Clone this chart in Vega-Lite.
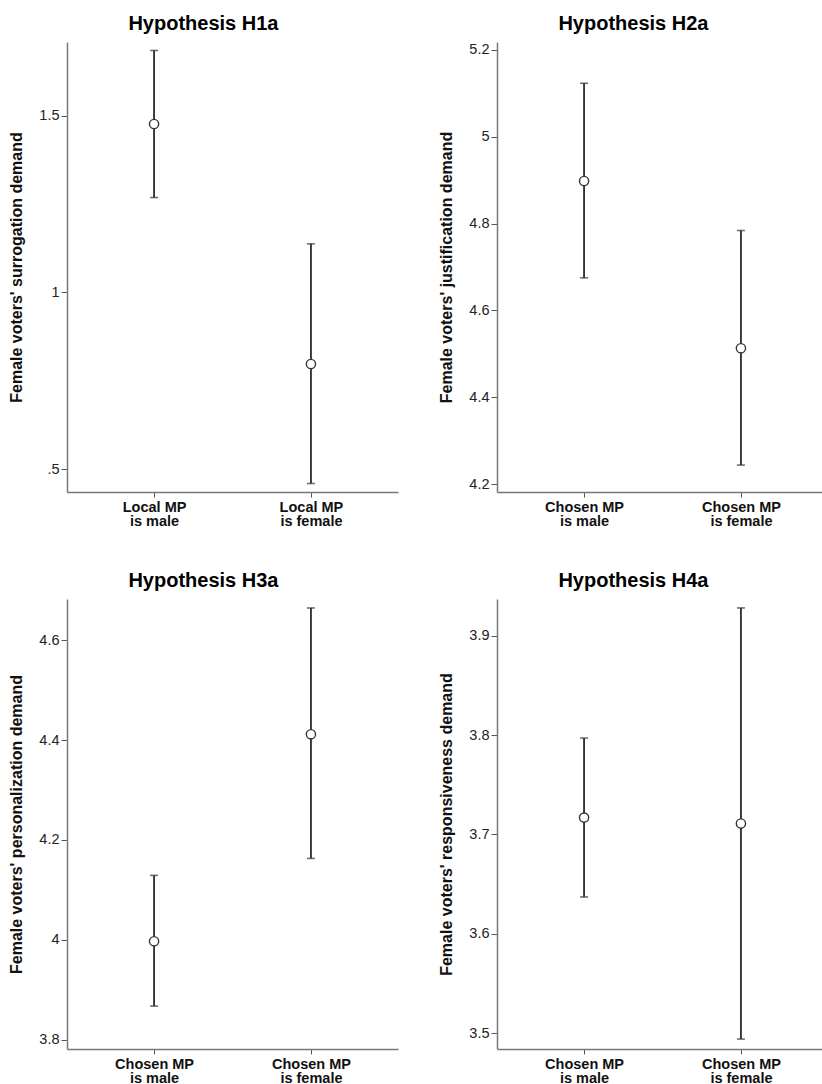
{
  "$schema": "https://vega.github.io/schema/vega-lite/v6.json",
  "background": "white",
  "padding": {"left": 8, "top": 13, "right": 0, "bottom": 0},
  "config": {
    "font": "Liberation Sans",
    "view": {"stroke": null},
    "title": {"fontSize": 20, "fontWeight": "bold", "color": "#000", "anchor": "middle", "frame": "bounds", "offset": 8},
    "axisY": {"domainColor": "#777", "domainWidth": 1.5, "tickColor": "#555", "tickSize": 6, "tickWidth": 1, "labelFontSize": 14.5, "labelColor": "#222", "labelPadding": 2, "titleFontSize": 16, "titleFontWeight": "bold", "titleColor": "#111", "titlePadding": 14, "grid": false, "format": "~g"},
    "axisX": {"domainColor": "#777", "domainWidth": 1.5, "tickColor": "#555", "tickSize": 5, "tickWidth": 1, "labelFontSize": 14.5, "labelFontWeight": "bold", "labelColor": "#111", "labelPadding": 3, "labelAngle": 0, "labelLineHeight": 14, "grid": false, "labelExpr": "[slice(datum.value, 0, indexof(datum.value, ' is ')), slice(datum.value, indexof(datum.value, ' is ') + 1)]"}
  },
  "columns": 2,
  "spacing": {"row": 43, "column": 40},
  "concat": [
    {
      "title": "Hypothesis H1a",
      "width": 331, "height": 450,
      "data": {"values": [
        {"condition": "Local MP is male", "estimate": 1.476, "lower": 1.268, "upper": 1.684},
        {"condition": "Local MP is female", "estimate": 0.797, "lower": 0.459, "upper": 1.137}
      ]},
      "encoding": {"x": {"field": "condition", "type": "nominal", "sort": null, "scale": {"type": "point", "padding": 0.555}, "axis": {"title": null}}},
      "layer": [
        {"mark": {"type": "rule", "color": "#333", "strokeWidth": 1.9},
         "encoding": {"y": {"field": "lower", "type": "quantitative", "scale": {"domain": [0.435, 1.708], "nice": false, "zero": false}, "axis": {"title": "Female voters' surrogation demand", "values": [0.5, 1, 1.5], "labelExpr": "datum.value == 0.5 ? '.5' : datum.label"}}, "y2": {"field": "upper"}}},
        {"mark": {"type": "tick", "color": "#333", "size": 8, "thickness": 1.6},
         "encoding": {"y": {"field": "lower", "type": "quantitative", "scale": {"domain": [0.435, 1.708], "nice": false, "zero": false}, "axis": {"title": "Female voters' surrogation demand", "values": [0.5, 1, 1.5], "labelExpr": "datum.value == 0.5 ? '.5' : datum.label"}}}},
        {"mark": {"type": "tick", "color": "#333", "size": 8, "thickness": 1.6},
         "encoding": {"y": {"field": "upper", "type": "quantitative", "scale": {"domain": [0.435, 1.708], "nice": false, "zero": false}, "axis": {"title": "Female voters' surrogation demand", "values": [0.5, 1, 1.5], "labelExpr": "datum.value == 0.5 ? '.5' : datum.label"}}}},
        {"mark": {"type": "point", "shape": "circle", "filled": true, "fill": "white", "stroke": "#333", "strokeWidth": 1.4, "size": 85, "opacity": 1},
         "encoding": {"y": {"field": "estimate", "type": "quantitative", "scale": {"domain": [0.435, 1.708], "nice": false, "zero": false}, "axis": {"title": "Female voters' surrogation demand", "values": [0.5, 1, 1.5], "labelExpr": "datum.value == 0.5 ? '.5' : datum.label"}}}}
      ]
    },
    {
      "title": "Hypothesis H2a",
      "width": 331, "height": 450,
      "data": {"values": [
        {"condition": "Chosen MP is male", "estimate": 4.898, "lower": 4.675, "upper": 5.123},
        {"condition": "Chosen MP is female", "estimate": 4.513, "lower": 4.244, "upper": 4.784}
      ]},
      "encoding": {"x": {"field": "condition", "type": "nominal", "sort": null, "scale": {"type": "point", "padding": 0.555}, "axis": {"title": null}}},
      "layer": [
        {"mark": {"type": "rule", "color": "#333", "strokeWidth": 1.9},
         "encoding": {"y": {"field": "lower", "type": "quantitative", "scale": {"domain": [4.182, 5.218], "nice": false, "zero": false}, "axis": {"title": "Female voters' justification demand", "values": [4.2, 4.4, 4.6, 4.8, 5, 5.2]}}, "y2": {"field": "upper"}}},
        {"mark": {"type": "tick", "color": "#333", "size": 8, "thickness": 1.6},
         "encoding": {"y": {"field": "lower", "type": "quantitative", "scale": {"domain": [4.182, 5.218], "nice": false, "zero": false}, "axis": {"title": "Female voters' justification demand", "values": [4.2, 4.4, 4.6, 4.8, 5, 5.2]}}}},
        {"mark": {"type": "tick", "color": "#333", "size": 8, "thickness": 1.6},
         "encoding": {"y": {"field": "upper", "type": "quantitative", "scale": {"domain": [4.182, 5.218], "nice": false, "zero": false}, "axis": {"title": "Female voters' justification demand", "values": [4.2, 4.4, 4.6, 4.8, 5, 5.2]}}}},
        {"mark": {"type": "point", "shape": "circle", "filled": true, "fill": "white", "stroke": "#333", "strokeWidth": 1.4, "size": 85, "opacity": 1},
         "encoding": {"y": {"field": "estimate", "type": "quantitative", "scale": {"domain": [4.182, 5.218], "nice": false, "zero": false}, "axis": {"title": "Female voters' justification demand", "values": [4.2, 4.4, 4.6, 4.8, 5, 5.2]}}}}
      ]
    },
    {
      "title": "Hypothesis H3a",
      "width": 331, "height": 450,
      "data": {"values": [
        {"condition": "Chosen MP is male", "estimate": 3.997, "lower": 3.867, "upper": 4.129},
        {"condition": "Chosen MP is female", "estimate": 4.412, "lower": 4.163, "upper": 4.665}
      ]},
      "encoding": {"x": {"field": "condition", "type": "nominal", "sort": null, "scale": {"type": "point", "padding": 0.555}, "axis": {"title": null}}},
      "layer": [
        {"mark": {"type": "rule", "color": "#333", "strokeWidth": 1.9},
         "encoding": {"y": {"field": "lower", "type": "quantitative", "scale": {"domain": [3.781, 4.683], "nice": false, "zero": false}, "axis": {"title": "Female voters' personalization demand", "values": [3.8, 4, 4.2, 4.4, 4.6]}}, "y2": {"field": "upper"}}},
        {"mark": {"type": "tick", "color": "#333", "size": 8, "thickness": 1.6},
         "encoding": {"y": {"field": "lower", "type": "quantitative", "scale": {"domain": [3.781, 4.683], "nice": false, "zero": false}, "axis": {"title": "Female voters' personalization demand", "values": [3.8, 4, 4.2, 4.4, 4.6]}}}},
        {"mark": {"type": "tick", "color": "#333", "size": 8, "thickness": 1.6},
         "encoding": {"y": {"field": "upper", "type": "quantitative", "scale": {"domain": [3.781, 4.683], "nice": false, "zero": false}, "axis": {"title": "Female voters' personalization demand", "values": [3.8, 4, 4.2, 4.4, 4.6]}}}},
        {"mark": {"type": "point", "shape": "circle", "filled": true, "fill": "white", "stroke": "#333", "strokeWidth": 1.4, "size": 85, "opacity": 1},
         "encoding": {"y": {"field": "estimate", "type": "quantitative", "scale": {"domain": [3.781, 4.683], "nice": false, "zero": false}, "axis": {"title": "Female voters' personalization demand", "values": [3.8, 4, 4.2, 4.4, 4.6]}}}}
      ]
    },
    {
      "title": "Hypothesis H4a",
      "width": 331, "height": 450,
      "data": {"values": [
        {"condition": "Chosen MP is male", "estimate": 3.717, "lower": 3.637, "upper": 3.797},
        {"condition": "Chosen MP is female", "estimate": 3.711, "lower": 3.494, "upper": 3.928}
      ]},
      "encoding": {"x": {"field": "condition", "type": "nominal", "sort": null, "scale": {"type": "point", "padding": 0.555}, "axis": {"title": null}}},
      "layer": [
        {"mark": {"type": "rule", "color": "#333", "strokeWidth": 1.9},
         "encoding": {"y": {"field": "lower", "type": "quantitative", "scale": {"domain": [3.484, 3.937], "nice": false, "zero": false}, "axis": {"title": "Female voters' responsiveness demand", "values": [3.5, 3.6, 3.7, 3.8, 3.9]}}, "y2": {"field": "upper"}}},
        {"mark": {"type": "tick", "color": "#333", "size": 8, "thickness": 1.6},
         "encoding": {"y": {"field": "lower", "type": "quantitative", "scale": {"domain": [3.484, 3.937], "nice": false, "zero": false}, "axis": {"title": "Female voters' responsiveness demand", "values": [3.5, 3.6, 3.7, 3.8, 3.9]}}}},
        {"mark": {"type": "tick", "color": "#333", "size": 8, "thickness": 1.6},
         "encoding": {"y": {"field": "upper", "type": "quantitative", "scale": {"domain": [3.484, 3.937], "nice": false, "zero": false}, "axis": {"title": "Female voters' responsiveness demand", "values": [3.5, 3.6, 3.7, 3.8, 3.9]}}}},
        {"mark": {"type": "point", "shape": "circle", "filled": true, "fill": "white", "stroke": "#333", "strokeWidth": 1.4, "size": 85, "opacity": 1},
         "encoding": {"y": {"field": "estimate", "type": "quantitative", "scale": {"domain": [3.484, 3.937], "nice": false, "zero": false}, "axis": {"title": "Female voters' responsiveness demand", "values": [3.5, 3.6, 3.7, 3.8, 3.9]}}}}
      ]
    }
  ]
}
